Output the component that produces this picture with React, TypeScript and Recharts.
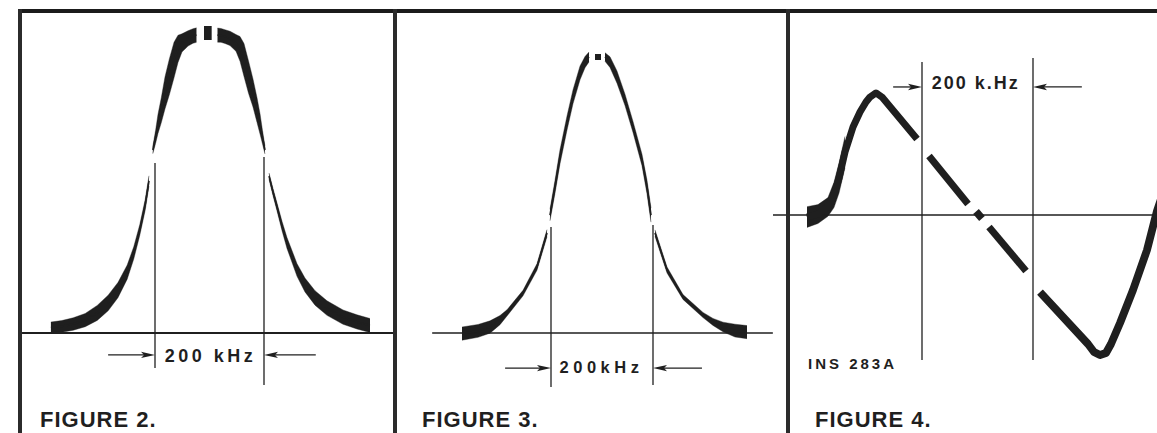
import React from "react"
import { ComposedChart, Line, Area, XAxis, YAxis, ReferenceLine, ReferenceDot } from "recharts"

type Pt = [number, number]

// ---- FIGURE 2 : wide response (x = kHz from centre, y = relative level) ----
const fig2TailLeft: Pt[] = [
  [-291, 0.018], [-271, 0.022], [-250, 0.03], [-228, 0.043], [-206, 0.067], [-186, 0.1],
  [-168, 0.143], [-151, 0.203], [-139, 0.267], [-128, 0.343], [-118, 0.427], [-111, 0.507],
]
const fig2ArmLeft: Pt[] = [
  [-104, 0.61], [-99, 0.653], [-94.5, 0.697], [-88.4, 0.743], [-81.7, 0.8], [-73.8, 0.853],
  [-65.1, 0.91], [-57.8, 0.947], [-50.5, 0.967], [-39.4, 0.982], [-30.3, 0.99], [-23.9, 0.993],
]
const fig2Peak: Pt[] = [[-10.1, 1.0], [4.0, 1.0]]
const fig2ArmRight: Pt[] = [
  [14.7, 0.993], [21.1, 0.992], [28.4, 0.988], [37.6, 0.982], [48.6, 0.967], [56, 0.947],
  [63.3, 0.91], [71.6, 0.853], [79.8, 0.8], [87.2, 0.743], [92.7, 0.697], [97.2, 0.653], [101.8, 0.61],
]
const fig2TailRight: Pt[] = [
  [109.2, 0.523], [116.5, 0.47], [123.9, 0.42], [133, 0.357], [142.2, 0.3], [160.6, 0.21],
  [175.2, 0.16], [193.6, 0.117], [215.6, 0.083], [245, 0.053], [270.6, 0.037], [294.5, 0.025],
]

// ---- FIGURE 3 : narrower response ----
const fig3TailLeft: Pt[] = [
  [-274.5, -0.002], [-243.1, 0.007], [-219.6, 0.02], [-200, 0.043], [-186.3, 0.067],
  [-154.9, 0.133], [-127.5, 0.22], [-107.8, 0.333],
]
const fig3ArmLeft: Pt[] = [
  [-102, 0.393], [-92.2, 0.487], [-82.4, 0.587], [-68.6, 0.7], [-56.9, 0.787],
  [-43.1, 0.867], [-33.3, 0.903], [-25.5, 0.92],
]
const fig3Peak: Pt[] = [[-13.7, 0.92], [-2, 0.92]]
const fig3ArmRight: Pt[] = [
  [5.9, 0.92], [15.7, 0.903], [29.4, 0.853], [45.1, 0.777], [60.8, 0.687],
  [78.4, 0.577], [88.2, 0.487], [96.1, 0.393],
]
const fig3TailRight: Pt[] = [
  [103.9, 0.333], [127.5, 0.21], [158.8, 0.12], [198, 0.06], [217.6, 0.037],
  [237.3, 0.02], [260.8, 0.008], [284.3, 0.003],
]

// ---- FIGURE 4 : discriminator S-curve ----
const fig4Rise: Pt[] = [
  [-307.2, -0.017], [-287.4, 0.008], [-269.4, 0.067], [-258.6, 0.167], [-249.5, 0.308],
  [-238.7, 0.525], [-224.3, 0.733], [-211.7, 0.858], [-200.9, 0.942], [-193.7, 0.983],
  [-182.9, 1.017], [-172.1, 0.983], [-109, 0.633],
]
const fig4DashA: Pt[] = [[-87.4, 0.492], [-17.1, 0.092]]
const fig4Zero: Pt[] = [[-2.7, 0.029], [8.1, -0.029]]
const fig4DashB: Pt[] = [[20.7, -0.1], [87.4, -0.467]]
const fig4Fall: Pt[] = [
  [112.6, -0.642], [199.1, -1.075], [209.9, -1.142], [220.7, -1.167], [231.5, -1.15],
  [240.5, -1.075], [256.8, -0.9], [280.2, -0.625], [305.4, -0.292], [323.4, 0.033], [332.4, 0.158],
]

const INK = "#1f1f1f"
const FONT = '"Liberation Sans", Arial, sans-serif'
const H = 433

// page calibration of each panel: px of 0 kHz, px per kHz, px of level 0, px per unit
const P2 = { left: 20, width: 378, cx: 209.5, kx: 0.545, base: 333, ky: 300 }
const P3 = { left: 396, width: 390, cx: 602, kx: 0.51, base: 333, ky: 300 }
const P4 = { left: 770, width: 387, cx: 977.5, kx: 0.555, base: 215, ky: 120 }

const line = (key: string, pts: Pt[], width: number) => (
  <Line
    key={key}
    data={pts.map(([x, y]) => ({ x, y }))}
    dataKey="y"
    type="linear"
    stroke={INK}
    strokeWidth={width}
    strokeLinejoin="round"
    dot={false}
    activeDot={false}
    isAnimationActive={false}
  />
)

// heavy part of the trace: a filled band around the centre line, weight in px
function heavy(key: string, pts: Pt[], weights: number[], p: { kx: number; ky: number }) {
  const data = pts.map(([x, y], i) => {
    const a = pts[Math.max(0, i - 1)]
    const b = pts[Math.min(pts.length - 1, i + 1)]
    const s = ((b[1] - a[1]) * p.ky) / ((b[0] - a[0]) * p.kx)
    const h = ((weights[i] / 2) * Math.sqrt(1 + s * s)) / p.ky
    return { x, y: [y - h, y + h] }
  })
  return [
    <Area
      key={key}
      data={data}
      dataKey="y"
      type="linear"
      stroke={INK}
      strokeWidth={0.4}
      fill={INK}
      fillOpacity={1}
      dot={false}
      activeDot={false}
      isAnimationActive={false}
    />,
    line(`${key}-c`, pts, 1.6),
  ]
}

const arrowHead = (dir: number) => (p: any) => {
  const { cx, cy } = p
  return (
    <polygon
      points={`${cx},${cy} ${cx - dir * 14},${cy - 3.2} ${cx - dir * 11},${cy} ${cx - dir * 14},${cy + 3.2}`}
      fill={INK}
    />
  )
}

const caption = (text: string, size: number, spacing: number) => (p: any) => (
  <text
    x={p.cx}
    y={p.cy}
    textAnchor="middle"
    fontFamily={FONT}
    fontSize={size}
    fontWeight={700}
    letterSpacing={spacing}
    fill={INK}
  >
    {text}
  </text>
)

interface PanelProps {
  cal: { left: number; width: number; cx: number; kx: number; base: number; ky: number }
  children: React.ReactNode
}

function Panel({ cal, children }: PanelProps) {
  const { left, width, cx, kx, base, ky } = cal
  const xDomain = [(left - cx) / kx, (left + width - cx) / kx]
  const yDomain = [(base - H) / ky, base / ky]
  return (
    <div style={{ position: "absolute", left, top: 0 }}>
      <ComposedChart width={width} height={H} margin={{ top: 0, right: 0, bottom: 0, left: 0 }}>
        <XAxis type="number" dataKey="x" domain={xDomain} hide allowDataOverflow />
        <YAxis type="number" domain={yDomain} hide allowDataOverflow />
        {children}
      </ComposedChart>
    </div>
  )
}

const thin = { stroke: INK, strokeWidth: 1.3 }

export default function App() {
  return (
    <div
      style={{
        position: "absolute",
        left: 0,
        top: 0,
        width: 1157,
        height: H,
        background: "#fff",
        overflow: "hidden",
      }}
    >
      {/* FIGURE 2 */}
      <Panel cal={P2}>
        <ReferenceLine segment={[{ x: -344, y: 0 }, { x: 342, y: 0 }]} stroke={INK} strokeWidth={1.8} />
        <ReferenceLine segment={[{ x: -100, y: 0.567 }, { x: -100, y: -0.117 }]} {...thin} />
        <ReferenceLine segment={[{ x: 100, y: 0.587 }, { x: 100, y: -0.173 }]} {...thin} />
        <ReferenceLine segment={[{ x: -186, y: -0.073 }, { x: -110, y: -0.073 }]} {...thin} />
        <ReferenceLine segment={[{ x: 110, y: -0.073 }, { x: 195, y: -0.073 }]} {...thin} />
        <ReferenceDot x={-100} y={-0.073} r={0} shape={arrowHead(1)} />
        <ReferenceDot x={100} y={-0.073} r={0} shape={arrowHead(-1)} />
        <ReferenceDot x={2} y={-0.097} r={0} shape={caption("200 kHz", 18, 3.5)} />
        {heavy("f2tl", fig2TailLeft, [11, 11.5, 12, 12, 12, 10.5, 8, 5.5, 3.5, 2.5, 2, 1.6], P2)}
        {heavy("f2al", fig2ArmLeft, [1.5, 2.5, 4, 5.5, 7.5, 9.5, 10.5, 11.5, 12.5, 13, 13.5, 14], P2)}
        {line("f2pk", fig2Peak, 14)}
        {heavy("f2ar", fig2ArmRight, [14, 13.5, 13, 12.5, 11.5, 10.5, 9.5, 8.5, 7, 5.5, 4, 2.5, 1.5], P2)}
        {heavy("f2tr", fig2TailRight, [1.5, 1.8, 2, 2.5, 3.5, 5, 7.5, 10, 12, 13, 13.5, 13.5], P2)}
      </Panel>

      {/* FIGURE 3 */}
      <Panel cal={P3}>
        <ReferenceLine segment={[{ x: -333, y: 0 }, { x: 335, y: 0 }]} stroke={INK} strokeWidth={1.6} />
        <ReferenceLine segment={[{ x: -100, y: 0.353 }, { x: -100, y: -0.18 }]} {...thin} />
        <ReferenceLine segment={[{ x: 100, y: 0.36 }, { x: 100, y: -0.173 }]} {...thin} />
        <ReferenceLine segment={[{ x: -190, y: -0.117 }, { x: -110, y: -0.117 }]} {...thin} />
        <ReferenceLine segment={[{ x: 110, y: -0.117 }, { x: 196, y: -0.117 }]} {...thin} />
        <ReferenceDot x={-100} y={-0.117} r={0} shape={arrowHead(1)} />
        <ReferenceDot x={100} y={-0.117} r={0} shape={arrowHead(-1)} />
        <ReferenceDot x={-1} y={-0.133} r={0} shape={caption("200kHz", 16.5, 4.5)} />
        {heavy("f3tl", fig3TailLeft, [13, 12.5, 11, 7, 4, 3, 2.4, 2], P3)}
        {heavy("f3al", fig3ArmLeft, [2, 2.2, 2.6, 3, 3.5, 4.5, 5.5, 6], P3)}
        {line("f3pk", fig3Peak, 6)}
        {heavy("f3ar", fig3ArmRight, [6, 5.5, 4.5, 3.5, 3, 2.6, 2.2, 2], P3)}
        {heavy("f3tr", fig3TailRight, [2, 2.4, 3, 4, 6, 9, 12.5, 13], P3)}
      </Panel>

      {/* FIGURE 4 */}
      <Panel cal={P4}>
        <ReferenceLine segment={[{ x: -368.5, y: 0 }, { x: 323, y: 0 }]} stroke={INK} strokeWidth={1.6} />
        <ReferenceLine segment={[{ x: -100, y: 1.275 }, { x: -100, y: -1.208 }]} {...thin} />
        <ReferenceLine segment={[{ x: 100, y: 1.308 }, { x: 100, y: -1.208 }]} {...thin} />
        <ReferenceLine segment={[{ x: -152, y: 1.067 }, { x: -118, y: 1.067 }]} {...thin} />
        <ReferenceLine segment={[{ x: 118, y: 1.067 }, { x: 188, y: 1.067 }]} {...thin} />
        <ReferenceDot x={-100} y={1.067} r={0} shape={arrowHead(1)} />
        <ReferenceDot x={100} y={1.067} r={0} shape={arrowHead(-1)} />
        <ReferenceDot x={-3} y={1.05} r={0} shape={caption("200 k.Hz", 18, 2)} />
        {heavy("f4s", fig4Rise.slice(0, 6), [20, 17, 12, 9, 7.5, 7], P4)}
        {line("f4r", fig4Rise, 7)}
        {line("f4a", fig4DashA, 7)}
        {line("f4z", fig4Zero, 7.5)}
        {line("f4b", fig4DashB, 7)}
        {line("f4f", fig4Fall, 7.8)}
      </Panel>

      {/* frame */}
      <div style={{ position: "absolute", left: 18, top: 9, width: 1139, height: 4, background: "#1b1b1b" }} />
      <div style={{ position: "absolute", left: 18, top: 9, width: 4, height: H - 9, background: "#2b2b2b" }} />
      <div style={{ position: "absolute", left: 393, top: 9, width: 3.5, height: H - 9, background: "#2b2b2b" }} />
      <div style={{ position: "absolute", left: 786, top: 9, width: 4, height: H - 9, background: "#2b2b2b" }} />

      <svg
        width={1157}
        height={H}
        style={{ position: "absolute", left: 0, top: 0, pointerEvents: "none" }}
      >
        <g fontFamily={FONT} fontWeight={700} fill={INK}>
          <text x={40} y={427} fontSize={22} letterSpacing={1}>FIGURE 2.</text>
          <text x={422} y={427} fontSize={22} letterSpacing={1}>FIGURE 3.</text>
          <text x={815} y={427} fontSize={22} letterSpacing={1}>FIGURE 4.</text>
          <text x={808} y={369} fontSize={15} letterSpacing={3}>INS 283A</text>
        </g>
      </svg>
    </div>
  )
}
